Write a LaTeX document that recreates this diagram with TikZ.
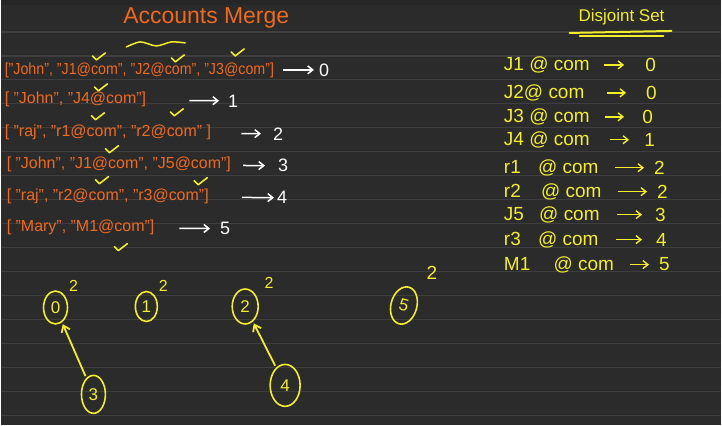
\documentclass[tikz,border=0pt]{standalone}
\usepackage{fontspec}
\setmainfont{Liberation Sans}
\usetikzlibrary{arrows.meta, positioning, shapes.geometric}
\definecolor{board}{HTML}{2B2B2B}
\definecolor{ruleline}{HTML}{3E3E3E}
\definecolor{chalkor}{HTML}{EE6A1E}
\definecolor{chalkyl}{HTML}{F2EE2A}
\tikzset{
  acct/.style={anchor=west, text=chalkor, font=\fontsize{16}{18}\selectfont, inner sep=1pt},
  idx/.style={text=white, font=\fontsize{18}{20}\selectfont, inner sep=1pt},
  warr/.style={-{Straight Barb[length=5pt,width=8pt]}, white, line width=1.5pt},
  setrow/.style={anchor=west, text=chalkyl, font=\fontsize{19}{21}\selectfont, inner sep=1pt},
  setval/.style={text=chalkyl, font=\fontsize{19}{21}\selectfont, inner sep=1pt},
  yarr/.style={-{Straight Barb[length=6pt,width=9pt]}, chalkyl, line width=1.8pt, shorten <=2pt, shorten >=2pt},
  root/.style={ellipse, draw=chalkyl, line width=1.6pt, text=chalkyl, inner sep=0pt, font=\fontsize{17}{19}\selectfont},
  rank/.style={text=chalkyl, font=\fontsize{16}{18}\selectfont, inner sep=0pt},
  tick/.style={chalkyl, line width=1.6pt, line cap=round, line join=round},
}
\begin{document}
\begin{tikzpicture}[x=1pt, y=-1pt]
  % board
  \fill[board] (0,0) rectangle (722,426);
  \fill[black!85] (0,0) rectangle (722,5);
  \foreach \y in {32,56,...,416}
    \draw[ruleline, line width=1.2pt] (0,\y) -- (722,\y);

  % Title
  \node[text=chalkor, font=\fontsize{23}{26}\selectfont] (title) at (206,18) {Accounts Merge};
  \draw[chalkyl, line width=1.5pt, line cap=round] plot[smooth] coordinates {(126,47) (140,42) (156,46) (171,42) (185,43)};

  % Accounts
  \node[acct] (a0) at (3,70)  {\scalebox{0.89}[1]{["John", "J1@com", "J2@com", "J3@com"]}};
  \node[acct] (a1) at (3,100) {[ "John", "J4@com"]};
  \node[acct] (a2) at (3,133) {[ "raj", "r1@com", "r2@com" ]};
  \node[acct] (a3) at (5,165) {[ "John", "J1@com", "J5@com"]};
  \node[acct] (a4) at (5,197) {[ "raj", "r2@com", "r3@com"]};
  \node[acct] (a5) at (5,228) {[ "Mary", "M1@com"]};
  \node[idx] (i0) at (324,70)  {0};
  \node[idx] (i1) at (233,101) {1};
  \node[idx] (i2) at (278,134) {2};
  \node[idx] (i3) at (283,166) {3};
  \node[idx] (i4) at (282,198) {4};
  \node[idx] (i5) at (225,229) {5};
  \foreach \i/\sa/\sb in {0/8/4, 1/42/8, 2/29/11, 3/11/12, 4/32/2, 5/24/9}
    \draw[warr, shorten <=\sa pt, shorten >=\sb pt] (a\i) -- (i\i);

  % ticks
  \foreach \x/\y in {97/57, 176/59, 236/53, 99/88, 96/117, 175/113, 110/150, 100/181, 199/182, 119/248}
    \draw[tick] (\x-5,\y-1) -- (\x-1,\y+3) -- (\x+8,\y-4);

  % Disjoint set
  \node[text=chalkyl, font=\fontsize{17}{19}\selectfont] (dset) at (622,17) {Disjoint Set};
  \draw[chalkyl, line width=2pt, line cap=round] (570,33) -- (672,31);
  \draw[chalkyl, line width=1.5pt, line cap=round] (580,36) -- (664,36);
  \foreach \t/\v/\y/\nx/\sa/\sb [count=\i] in {J1 @ com/0/65/651/13/20, J2@ com/0/93/652/21/19,
      J3 @ com/0/117/648/14/17, J4 @ com/1/140/650/19/14, r1\hspace{12pt} @ com/2/168/660/15/9,
      r2\hspace{15pt} @ com/2/192/663/15/9, J5\hspace{10pt} @ com/3/215/661/16/12,
      r3\hspace{12pt} @ com/4/240/662/16/13, M1\hspace{18pt} @ com/5/265/665/15/9}
  {
    \node[setrow] (s\i) at (503,\y) {\t};
    \node[setval] (v\i) at (\nx,\y) {\v};
    \draw[-{Straight Barb[length=5pt,width=8pt]}, chalkyl, line width=1.4pt, shorten <=\sa pt, shorten >=\sb pt] (s\i) -- (v\i);
  }

  % Forest
  \node[root, minimum width=24pt, minimum height=33pt] (r0) at (55,308) {0};
  \node[root, minimum width=22pt, minimum height=30pt] (r1) at (146,307) {1};
  \node[root, minimum width=26pt, minimum height=35pt] (r2) at (245,307) {2};
  \node[root, minimum width=26pt, minimum height=38pt, rotate=-15] (r5) at (404,306) {5};
  \node[root, minimum width=24pt, minimum height=38pt] (c3) at (93,395) {3};
  \node[root, minimum width=30pt, minimum height=42pt] (c4) at (285,386) {4};
  \node[rank] (k0) at (73,286) {2};
  \node[rank] (k1) at (163,286) {2};
  \node[rank] (k2) at (269,283) {2};
  \node[rank, font=\fontsize{19}{21}\selectfont] (k5) at (432,273) {2};
  \draw[yarr] (c3) -- (r0);
  \draw[yarr] (c4) -- (r2);
\end{tikzpicture}
\end{document}
